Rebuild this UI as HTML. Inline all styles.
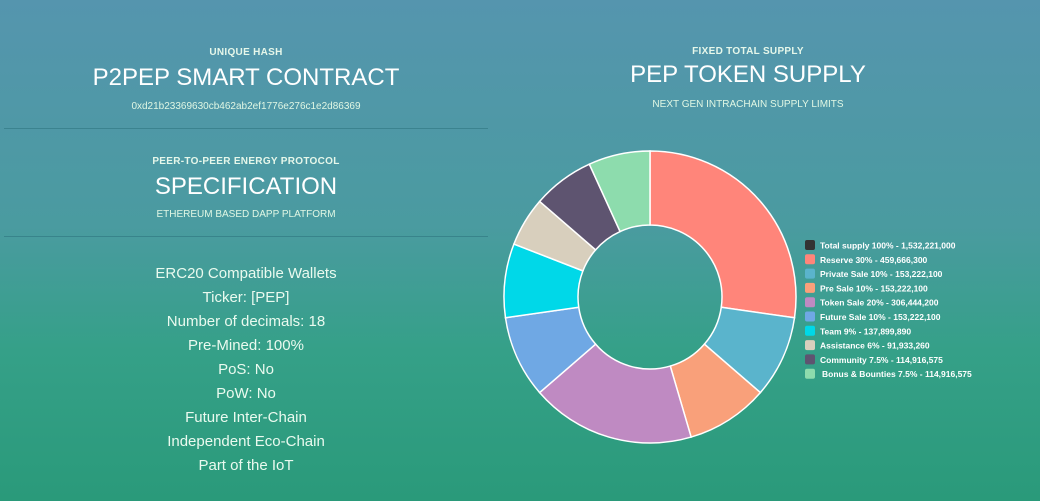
<!DOCTYPE html>
<html><head><meta charset="utf-8"><style>
body{margin:0;width:1040px;height:501px;overflow:hidden;font-family:"Liberation Sans",sans-serif;background:linear-gradient(180deg,#5595ae 0%,#4a9ba0 45%,#35a088 70%,#2a9a7a 100%);position:relative;color:#fff}
.c{position:absolute;text-align:center}
.sm{font-size:10px;font-weight:bold;color:#e6f7ea;letter-spacing:.3px}
.big{font-size:24px;color:#fff}
.sub{font-size:10px;color:#e0f7e4}
.hr{position:absolute;left:4px;width:484px;height:1px;background:rgba(40,110,120,.5)}
.spec{font-size:15px;color:#eafaef;line-height:24px}
</style></head><body>
<div class="c" style="left:0;width:492px;top:0">
 <div class="c sm" style="left:0;width:492px;top:47px">UNIQUE HASH</div>
 <div class="c big" style="left:0;width:492px;top:64px">P2PEP SMART CONTRACT</div>
 <div class="c sub" style="left:0;width:492px;top:101px">0xd21b23369630cb462ab2ef1776e276c1e2d86369</div>
 <div class="hr" style="top:128px"></div>
 <div class="c sm" style="left:0;width:492px;top:156px">PEER-TO-PEER ENERGY PROTOCOL</div>
 <div class="c big" style="left:0;width:492px;top:173px">SPECIFICATION</div>
 <div class="c sub" style="left:0;width:492px;top:209px">ETHEREUM BASED DAPP PLATFORM</div>
 <div class="hr" style="top:236px"></div>
 <div class="c spec" style="left:0;width:492px;top:262px">ERC20 Compatible Wallets<br>Ticker: [PEP]<br>Number of decimals: 18<br>Pre-Mined: 100%<br>PoS: No<br>PoW: No<br>Future Inter-Chain<br>Independent Eco-Chain<br>Part of the IoT</div>
</div>
<div class="c sm" style="left:548px;width:400px;top:46px">FIXED TOTAL SUPPLY</div>
<div class="c big" style="left:548px;width:400px;top:61px">PEP TOKEN SUPPLY</div>
<div class="c sub" style="left:548px;width:400px;top:99px">NEXT GEN INTRACHAIN SUPPLY LIMITS</div>
<svg id="chart" width="1040" height="501" style="position:absolute;left:0;top:0"></svg>
<script>
const labels=["Total supply 100% - 1,532,221,000","Reserve 30% - 459,666,300","Private Sale 10% - 153,222,100","Pre Sale 10% - 153,222,100","Token Sale 20% - 306,444,200","Future Sale 10% - 153,222,100","Team 9% - 137,899,890","Assistance 6% - 91,933,260","Community 7.5% - 114,916,575","Bonus & Bounties 7.5% - 114,916,575"];
const values=[0,30,10,10,20,10,9,6,7.5,7.5];
const colors=["#333","#ff857a","#5ab4cc","#f9a07a","#bf8ac2","#6fa8e4","#00d8e8","#d8cfbd","#5e5470","#8ddcad"];
const svg=document.getElementById('chart');const NS="http://www.w3.org/2000/svg";
const cx=650,cy=297,R=146,r=72;
const total=values.reduce((a,b)=>a+b,0);
let a0=-Math.PI/2;
function pt(rad,a){return [cx+rad*Math.cos(a),cy+rad*Math.sin(a)];}
values.forEach((v,i)=>{if(v<=0)return;const a1=a0+v/total*2*Math.PI;const L=(a1-a0)>Math.PI?1:0;
const p1=pt(R,a0),p2=pt(R,a1),p3=pt(r,a1),p4=pt(r,a0);
const p=document.createElementNS(NS,'path');
p.setAttribute('d',`M${p1}A${R},${R} 0 ${L} 1 ${p2}L${p3}A${r},${r} 0 ${L} 0 ${p4}Z`);
p.setAttribute('fill',colors[i]);p.setAttribute('stroke','#fff');p.setAttribute('stroke-width','1.5');


svg.appendChild(p);a0=a1;});
labels.forEach((t,i)=>{const y=240+i*14.3;
const s=document.createElementNS(NS,'rect');s.setAttribute('x',805);s.setAttribute('y',y);s.setAttribute('width',10);s.setAttribute('height',10);s.setAttribute('rx',2);s.setAttribute('fill',colors[i]);


svg.appendChild(s);
const tx=document.createElementNS(NS,'text');tx.setAttribute('x',i==9?822:820);tx.setAttribute('y',y+8.5);tx.setAttribute('fill','#fff');tx.setAttribute('font-size','8.5');tx.setAttribute('font-weight','bold');tx.setAttribute('font-family','Liberation Sans, sans-serif');tx.textContent=t;


svg.appendChild(tx);});
</script>
</body></html>
